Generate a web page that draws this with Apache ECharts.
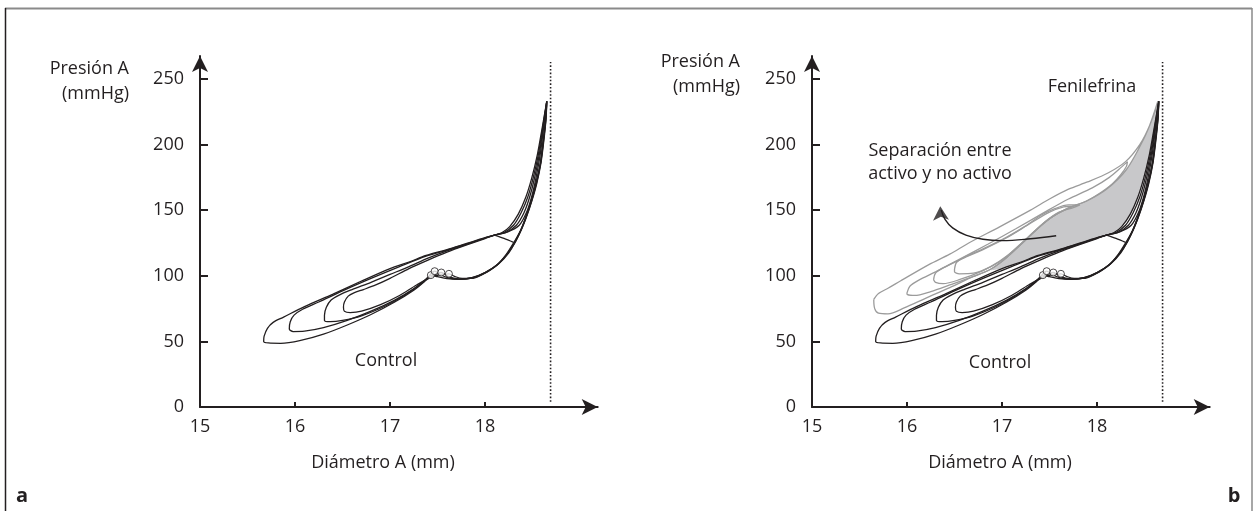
<!DOCTYPE html>
<html><head><meta charset="utf-8">
<script src="https://cdn.jsdelivr.net/npm/echarts@6/dist/echarts.min.js"></script>
<style>html,body{margin:0;padding:0;background:#fff}#c{width:1258px;height:511px}</style>
</head><body><div id="c"></div>
<script>
// ---- axes ----
const xTicks = [15, 16, 17, 18];
const yTicks = [0, 50, 100, 150, 200, 250];
const xMin = 15, xMax = 19.186, yMin = 0, yMax = 267.5;
const limitX = 18.69;
const limitY = [4, 263];

// ---- control loops (black), same in both panels ----
const control1 = [[18.65,233],[18.6,212],[18.55,192],[18.49,174],[18.43,160],[18.35,147],[18.26,137.5],[18.18,133],[18.1,131],
 [18.0,129],[17.8,124.5],[17.6,120],[17.38,115.5],[17.2,110.5],[17.0,105.5],[16.7,96],[16.4,86],[16.1,76.5],[15.88,68.5],[15.77,64.5],[15.71,60],[15.675,54],[15.67,50],[15.72,48.8],[15.85,48.5],[16.05,50.5],[16.3,55.5],[16.55,62.5],[16.8,70.5],[17.05,80],[17.25,89],[17.36,95.5],[17.43,100.5],
 [17.5,99.3],[17.6,97.8],[17.72,97.2],[17.86,98.5],[18.0,102.5],[18.12,108],[18.22,116],[18.3,125],[18.37,134],[18.42,143],[18.48,156],[18.53,169],[18.58,185],[18.61,202],[18.635,218],[18.65,233]];
const control2 = [[18.65,233],[18.605,212],[18.56,192],[18.505,174],[18.45,160],[18.38,148],[18.3,138.5],[18.2,133],[18.1,131],
 [18.0,128.8],[17.8,124.2],[17.6,119.6],[17.38,115],[17.1,107],[16.8,98],[16.5,88.5],[16.25,80],[16.08,74.5],[15.99,70],[15.95,65],[15.94,59.5],[15.98,57.5],[16.1,57.8],[16.3,60.5],[16.55,66],[16.8,73],[17.05,81.5],[17.25,90],[17.38,97.5],[17.47,103.5],
 [17.53,100.8],[17.62,98.3],[17.74,97.4],[17.88,98.8],[18.01,102.8],[18.13,108.5],[18.23,116.5],[18.31,125.5],[18.375,134.5],[18.425,143.5],[18.485,156.5],[18.535,169.5],[18.583,185.5],[18.613,202.5],[18.638,218.5],[18.65,233]];
const control3 = [[18.65,233],[18.61,212],[18.57,192],[18.52,174],[18.47,160],[18.41,148],[18.33,138.5],[18.22,133],[18.1,131],
 [18.0,128.6],[17.8,123.8],[17.6,119],[17.4,113.5],[17.2,107],[17.0,101],[16.8,95],[16.6,89.5],[16.47,85.5],[16.38,81.5],[16.33,76],[16.31,70],[16.31,66],[16.37,65],[16.5,66],[16.7,69.5],[16.95,77],[17.15,85],[17.32,93.5],[17.45,100],[17.54,102.5],
 [17.6,100],[17.67,98.3],[17.77,97.6],[17.9,99],[18.02,103],[18.14,109],[18.24,117],[18.32,126],[18.38,135],[18.43,144],[18.49,157],[18.54,170],[18.586,186],[18.616,203],[18.64,219],[18.65,233]];
const control4 = [[18.65,233],[18.615,212],[18.58,192],[18.535,174],[18.49,160],[18.435,148],[18.36,138.5],[18.24,133.5],[18.1,131],
 [18.0,128.3],[17.8,123.3],[17.6,118],[17.4,112],[17.2,105.5],[17.0,98],[16.85,93],[16.72,89.5],[16.62,87],[16.56,84.5],[16.52,80],[16.51,76],[16.52,73],[16.58,72],[16.7,73],[16.9,78],[17.1,85],[17.28,93],[17.45,99.5],[17.55,101],[17.62,101.5],
 [17.68,99.5],[17.76,98],[17.86,98],[17.96,100.5],[18.05,104],[18.15,109.5],[18.25,117.5],[18.325,126.5],[18.385,135.5],[18.435,144.5],[18.495,157.5],[18.545,170.5],[18.59,186.5],[18.62,203.5],[18.642,219.5],[18.65,233]];
const controlCross = [[18.1,131],[18.2,128.5],[18.3,125.5]];
const notchPoints = [[17.43,100.5],[17.47,103.5],[17.54,102.5],[17.62,101.5]];

// ---- fenilefrina loops (grey), panel b ----
const feni1 = [[15.65,82],[15.7,86.5],[15.8,90.5],[15.93,96],[16.23,108.5],[16.45,116.5],[16.65,125],[16.98,137.5],[17.3,150],[17.5,158.5],[17.7,166],[17.9,171.5],[18.12,178.5],[18.3,187],[18.45,200],[18.55,214],[18.64,233],
 [18.6,223],[18.49,204],[18.31,181],[18.1,166],[17.89,157],[17.68,151],[17.47,142],[17.26,128],[17.05,114],[16.88,105],[16.7,99.5],[16.45,91],[16.2,83],[15.97,75.5],[15.8,71],[15.7,71.5],[15.66,75],[15.65,82]];
const feni2 = [[16.0,87],[16.03,92],[16.12,96.5],[16.3,103],[16.55,112.5],[16.85,124],[17.15,136],[17.45,148.5],[17.7,158.5],[17.95,167],[18.13,175],[18.26,183],[18.32,187],
 [18.31,183.5],[18.25,177],[18.16,170],[18.02,162.5],[17.89,157],[17.68,151],[17.47,142],[17.26,128],[17.05,114],[16.88,105],[16.7,99.5],[16.45,93],[16.25,88],[16.08,85],[16.0,86],[16.0,87]];
const feni3 = [[16.28,97],[16.3,102],[16.38,106],[16.55,112],[16.8,120],[17.05,129],[17.3,140],[17.5,148.5],[17.65,152.5],[17.75,153],
 [17.7,151.5],[17.55,146],[17.4,137.5],[17.2,124.5],[17.0,112],[16.8,104],[16.55,97],[16.38,94],[16.3,95],[16.28,97]];
const feni4 = [[16.5,105],[16.52,110],[16.6,114],[16.8,120.5],[17.05,129.5],[17.25,138],[17.42,146.5],[17.55,151],[17.7,154],[17.82,154],
 [17.75,152],[17.6,148.5],[17.45,141],[17.26,128.5],[17.05,115],[16.88,107],[16.7,102],[16.55,101.5],[16.5,103],[16.5,105]];

// ---- shaded separation area ----
const shadeArea = [[16.88,104],[17.05,114],[17.26,128],[17.47,142],[17.68,151],[17.89,157],[18.1,166],[18.31,181],[18.49,204],[18.6,223],[18.64,233],
 [18.6,212],[18.55,192],[18.49,174],[18.43,160],[18.35,147],[18.26,137.5],[18.18,133],[18.1,131],[18.0,129],[17.8,124.5],[17.6,120],[17.38,115.5],[17.2,110.5],[17.0,105.5],[16.88,104]];

// ---- annotation arrow ----
const arrowCurve = [[17.57,130.5],[17.3,128.2],[17.0,126.8],[16.8,127.8],[16.62,131],[16.48,136.5],[16.4,143],[16.36,150]];
const arrowTip = [[16.35,153]];

// ---- style ----
const INK = '#231f20', GREY = '#9b9b9b', FILL = '#c8c8ca';
const FONT = 'Open Sans';
const FS = 18;

function mkX(gi) {
  return { gridIndex: gi, type: 'value', min: xMin, max: xMax,
    axisLine: { show: true, onZero: false, symbol: ['none', 'arrow'], symbolSize: [12, 16], lineStyle: { color: INK, width: 2 } },
    axisTick: { show: true, inside: true, length: 5, customValues: xTicks, lineStyle: { color: INK, width: 2 } },
    axisLabel: { customValues: xTicks, margin: 11, color: INK, fontSize: FS, fontFamily: FONT },
    splitLine: { show: false } };
}
function mkY(gi) {
  return { gridIndex: gi, type: 'value', min: yMin, max: yMax,
    axisLine: { show: true, onZero: false, symbol: ['none', 'arrow'], symbolSize: [12, 16], lineStyle: { color: INK, width: 2 } },
    axisTick: { show: true, inside: true, length: 8, customValues: yTicks, lineStyle: { color: INK, width: 2 } },
    axisLabel: { customValues: yTicks, margin: 16, color: INK, fontSize: FS, fontFamily: FONT },
    splitLine: { show: false } };
}
function loop(data, gi, color, z) {
  return { type: 'line', xAxisIndex: gi, yAxisIndex: gi, data: data, showSymbol: false, smooth: 0.3,
    lineStyle: { color: color, width: 1.3 }, z: z || 3, silent: true, animation: false };
}
const series = [];
series.push({ type: 'custom', xAxisIndex: 1, yAxisIndex: 1, data: [0], z: 1, silent: true,
  renderItem: function (params, api) {
    const pts = shadeArea.map(p => api.coord(p));
    return { type: 'polygon', shape: { points: pts, smooth: 0.3 }, style: { fill: FILL, stroke: null } };
  } });
[feni1, feni2, feni3, feni4].forEach(d => series.push(loop(d, 1, GREY, 2)));
[0, 1].forEach(gi => {
  [control1, control2, control3, control4, controlCross].forEach(d => series.push(loop(d, gi, INK, 3)));
  series.push({ type: 'scatter', xAxisIndex: gi, yAxisIndex: gi, data: notchPoints, symbol: 'circle', symbolSize: 7,
    itemStyle: { color: '#fff', borderColor: INK, borderWidth: 1 }, z: 5, silent: true });
  series.push({ type: 'line', xAxisIndex: gi, yAxisIndex: gi, data: [[limitX, limitY[0]], [limitX, limitY[1]]], showSymbol: false,
    lineStyle: { color: INK, width: 1.6, type: [1.6, 2] }, z: 2, silent: true });
});
series.push({ type: 'line', xAxisIndex: 1, yAxisIndex: 1, data: arrowCurve, showSymbol: false, smooth: 0.4,
  lineStyle: { color: INK, width: 1.4 }, z: 6, silent: true });
series.push({ type: 'scatter', xAxisIndex: 1, yAxisIndex: 1, data: arrowTip, symbol: 'arrow', symbolSize: [12, 14], symbolRotate: 3,
  itemStyle: { color: INK }, z: 6, silent: true });

function txt(x, y, s, align) {
  return { type: 'text', x: x, y: y, z: 10,
    style: { text: s, fill: INK, fontSize: FS, fontFamily: FONT, align: align || 'center', verticalAlign: 'middle' } };
}
const graphic = [
  { type: 'line', shape: { x1: 5, y1: 8.5, x2: 1252, y2: 8.5 }, style: { stroke: '#8a8a8a', lineWidth: 2 } },
  { type: 'line', shape: { x1: 5.5, y1: 8, x2: 5.5, y2: 511 }, style: { stroke: '#231f20', lineWidth: 1.5 } },
  { type: 'line', shape: { x1: 1252, y1: 8, x2: 1252, y2: 511 }, style: { stroke: '#8a8a8a', lineWidth: 1.5 } },
  txt(129, 69, 'Presión A', 'right'),
  txt(129, 94, '(mmHg)', 'right'),
  txt(740, 62, 'Presión A', 'right'),
  txt(740, 87, '(mmHg)', 'right'),
  txt(386, 361, 'Control'),
  txt(383, 463, 'Diámetro A (mm)'),
  txt(1000, 363, 'Control'),
  txt(1000, 463, 'Diámetro A (mm)'),
  txt(1092, 87, 'Fenilefrina'),
  txt(940, 151, 'Separación entre'),
  txt(940, 174, 'activo y no activo'),
  { type: 'text', x: 22, y: 496, style: { text: 'a', fill: INK, fontSize: 20, fontWeight: 'bold', fontFamily: FONT, align: 'center', verticalAlign: 'middle' } },
  { type: 'text', x: 1234, y: 496, style: { text: 'b', fill: INK, fontSize: 20, fontWeight: 'bold', fontFamily: FONT, align: 'center', verticalAlign: 'middle' } }
];

const chart = echarts.init(document.getElementById('c'), null, { renderer: 'canvas' });
chart.setOption({
  animation: false,
  backgroundColor: '#fff',
  grid: [
    { left: 200, top: 56, right: 1258 - 597.7, bottom: 104 },
    { left: 812, top: 56, right: 1258 - 1209.7, bottom: 104 }
  ],
  xAxis: [mkX(0), mkX(1)],
  yAxis: [mkY(0), mkY(1)],
  series: series,
  graphic: graphic
});
</script></body></html>
